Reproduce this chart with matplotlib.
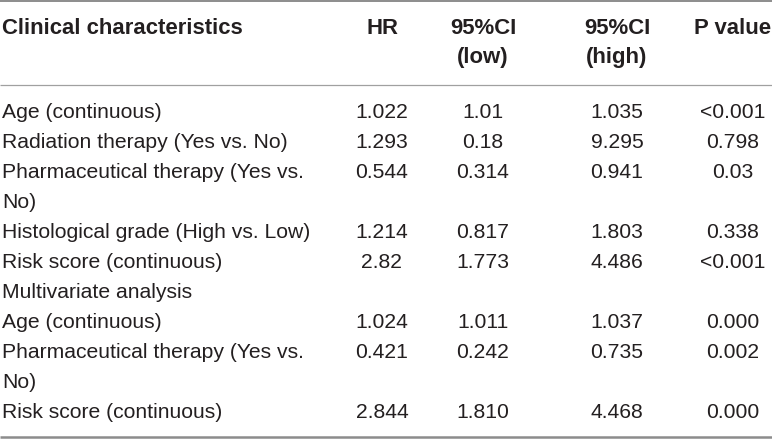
import matplotlib
matplotlib.use('Agg')
import matplotlib.pyplot as plt

# Table contents
headers = ['Clinical characteristics', 'HR', '95%CI\n(low)', '95%CI\n(high)', 'P value']
labels = ['Age (continuous)',
          'Radiation therapy (Yes vs. No)',
          'Pharmaceutical therapy (Yes vs.\nNo)',
          'Histological grade (High vs. Low)',
          'Risk score (continuous)',
          'Multivariate analysis',
          'Age (continuous)',
          'Pharmaceutical therapy (Yes vs.\nNo)',
          'Risk score (continuous)']
hr = ['1.022', '1.293', '0.544', '1.214', '2.82', '', '1.024', '0.421', '2.844']
ci_low = ['1.01', '0.18', '0.314', '0.817', '1.773', '', '1.011', '0.242', '1.810']
ci_high = ['1.035', '9.295', '0.941', '1.803', '4.486', '', '1.037', '0.735', '4.468']
p_value = ['<0.001', '0.798', '0.03', '0.338', '<0.001', '', '0.000', '0.002', '0.000']

plt.rcParams['font.family'] = ['Liberation Sans', 'DejaVu Sans']
text_color = '#231f20'
fs = 15.2
fs_head = 15.9

fig = plt.figure(figsize=(7.72, 4.40), dpi=100)
ax = fig.add_axes([0, 0, 1, 1])
ax.set_xlim(0, 772)
ax.set_ylim(440, 0)
ax.axis('off')

col_x = [2, 382, 483, 617, 733]
line_h = 30

# Header
ax.text(col_x[0], 28, headers[0], ha='left', va='center', fontsize=fs_head,
        fontweight='bold', color=text_color)
for x, h in zip(col_x[1:], headers[1:]):
    for k, ln in enumerate(h.split('\n')):
        ax.text(x, 28 + k * 29, ln, ha='center', va='center', fontsize=fs_head,
                fontweight='bold', color=text_color)

# Rules
ax.plot([0, 772], [1, 1], color='#8c8c8c', lw=1.4, solid_capstyle='butt')
ax.plot([0, 772], [85, 85], color='#a0a0a0', lw=0.9, solid_capstyle='butt')
ax.plot([0, 772], [437, 437], color='#8c8c8c', lw=1.8, solid_capstyle='butt')

# Body rows
y = 113
for i, lab in enumerate(labels):
    parts = lab.split('\n')
    for k, ln in enumerate(parts):
        ax.text(col_x[0], y + k * line_h, ln, ha='left', va='center',
                fontsize=fs, color=text_color)
    for x, vals in zip(col_x[1:], [hr, ci_low, ci_high, p_value]):
        if vals[i]:
            ax.text(x, y, vals[i], ha='center', va='center', fontsize=fs,
                    color=text_color)
    y += line_h * len(parts)

fig.savefig('out.png', dpi=100)
